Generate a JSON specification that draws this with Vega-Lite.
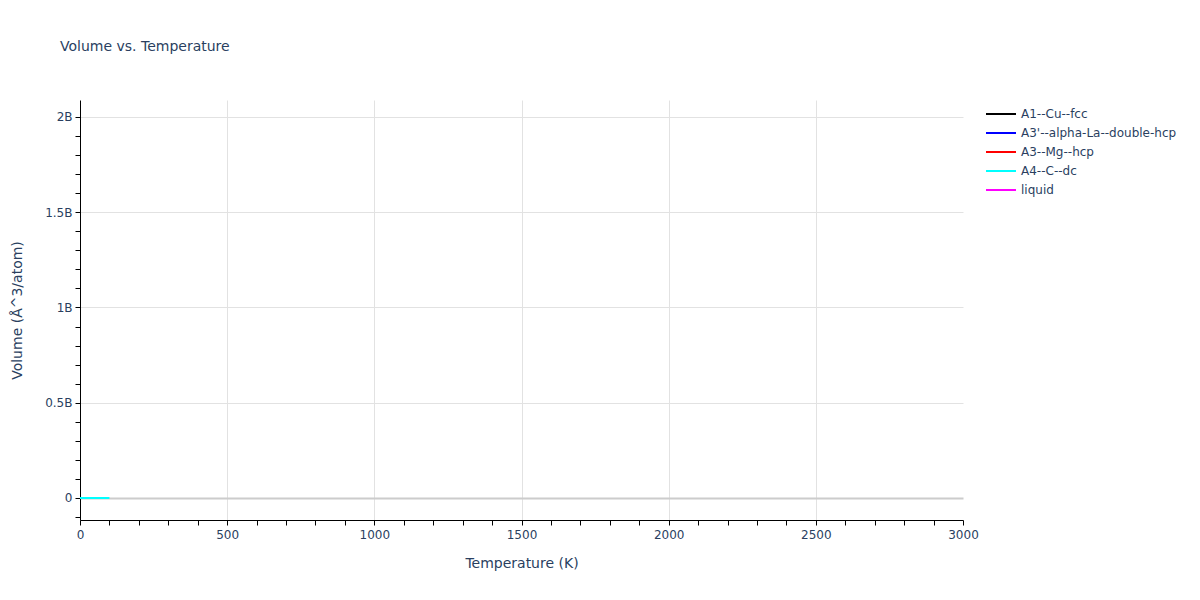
{
  "$schema": "https://vega.github.io/schema/vega-lite/v6.json",
  "description": "Volume vs. Temperature",
  "width": 883,
  "height": 420,
  "autosize": {"type": "none"},
  "padding": {"left": 80, "top": 100, "right": 237, "bottom": 80},
  "background": "white",
  "title": {
    "text": "Volume vs. Temperature",
    "anchor": "start",
    "frame": "group",
    "dx": -20,
    "offset": 46,
    "fontSize": 14,
    "fontWeight": "normal",
    "font": "DejaVu Sans",
    "color": "#2a3f5f"
  },
  "data": {
    "values": [
      {"T": 0, "V": 5.67, "phase": "A4--C--dc"},
      {"T": 10, "V": 5.67, "phase": "A4--C--dc"},
      {"T": 20, "V": 5.67, "phase": "A4--C--dc"},
      {"T": 30, "V": 5.67, "phase": "A4--C--dc"},
      {"T": 40, "V": 5.67, "phase": "A4--C--dc"},
      {"T": 50, "V": 5.67, "phase": "A4--C--dc"},
      {"T": 60, "V": 5.67, "phase": "A4--C--dc"},
      {"T": 70, "V": 5.68, "phase": "A4--C--dc"},
      {"T": 80, "V": 5.68, "phase": "A4--C--dc"},
      {"T": 90, "V": 5.68, "phase": "A4--C--dc"},
      {"T": 100, "V": 5.68, "phase": "A4--C--dc"}
    ]
  },
  "mark": {"type": "line", "strokeWidth": 2, "clip": true},
  "encoding": {
    "x": {
      "field": "T",
      "type": "quantitative",
      "scale": {"domain": [0, 3000], "nice": false, "zero": false},
      "axis": {
        "title": "Temperature (K)",
        "values": [0, 100, 200, 300, 400, 500, 600, 700, 800, 900, 1000, 1100, 1200, 1300, 1400, 1500, 1600, 1700, 1800, 1900, 2000, 2100, 2200, 2300, 2400, 2500, 2600, 2700, 2800, 2900, 3000],
        "labelExpr": "datum.value % 500 === 0 ? datum.value : ''",
        "labelFlush": false,
        "gridOpacity": {"condition": {"test": "datum.value % 500 === 0 && datum.value > 0 && datum.value < 3000", "value": 1}, "value": 0},
        "tickSize": 5,
        "labelPadding": 4,
        "titlePadding": 16
      }
    },
    "y": {
      "field": "V",
      "type": "quantitative",
      "scale": {"domain": [-115500000, 2089000000], "nice": false, "zero": false},
      "axis": {
        "title": "Volume (Å^3/atom)",
        "values": [-100000000, 0, 100000000, 200000000, 300000000, 400000000, 500000000, 600000000, 700000000, 800000000, 900000000, 1000000000, 1100000000, 1200000000, 1300000000, 1400000000, 1500000000, 1600000000, 1700000000, 1800000000, 1900000000, 2000000000],
        "labelExpr": "datum.value % 500000000 === 0 ? (datum.value === 0 ? '0' : (datum.value / 1000000000) + 'B') : ''",
        "labelFlush": false,
        "gridOpacity": {"condition": {"test": "datum.value % 500000000 === 0", "value": 1}, "value": 0},
        "gridColor": {"condition": {"test": "datum.value === 0", "value": "#cccccc"}, "value": "#e2e2e2"},
        "gridWidth": {"condition": {"test": "datum.value === 0", "value": 2}, "value": 1},
        "tickSize": 5,
        "labelPadding": 3,
        "titlePadding": 20
      }
    },
    "color": {
      "field": "phase",
      "type": "nominal",
      "scale": {
        "domain": ["A1--Cu--fcc", "A3'--alpha-La--double-hcp", "A3--Mg--hcp", "A4--C--dc", "liquid"],
        "range": ["black", "blue", "red", "cyan", "magenta"]
      },
      "legend": {
        "title": null,
        "orient": "none",
        "legendX": 905,
        "legendY": 7,
        "symbolType": "stroke",
        "symbolStrokeWidth": 2,
        "symbolSize": 900,
        "clipHeight": 14,
        "labelFontSize": 12,
        "labelColor": "#2a3f5f",
        "labelFont": "DejaVu Sans",
        "rowPadding": 5
      }
    }
  },
  "config": {
    "view": {"stroke": null},
    "axis": {
      "domainColor": "black",
      "tickColor": "black",
      "gridColor": "#e2e2e2",
      "labelColor": "#2a3f5f",
      "titleColor": "#2a3f5f",
      "labelFont": "DejaVu Sans",
      "titleFont": "DejaVu Sans",
      "labelFontSize": 12,
      "titleFontSize": 14,
      "titleFontWeight": "normal"
    }
  }
}
